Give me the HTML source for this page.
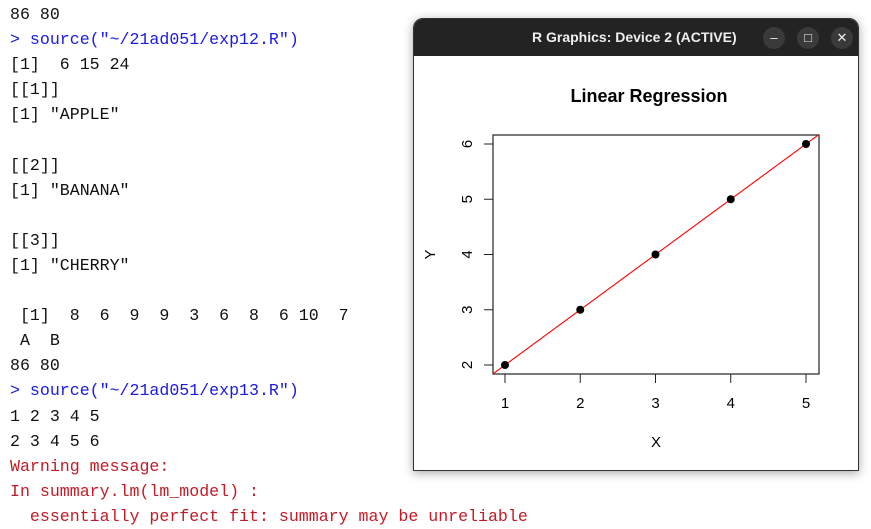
<!DOCTYPE html>
<html><head><meta charset="utf-8"><style>
body{margin:0;width:871px;height:526px;background:#fff;overflow:hidden;position:relative;font-family:"Liberation Sans",sans-serif}
#console{position:absolute;left:10px;top:2px;font-family:"Liberation Mono",monospace;font-size:16.6px;line-height:25.1px;white-space:pre;color:#111}
.b{color:#1a1ae6}.r{color:#c01c28}
#win{position:absolute;left:413px;top:18px;width:446px;height:453px;border-radius:10px 10px 0 0;box-shadow:0 2px 10px rgba(0,0,0,.35);background:#fff;overflow:hidden;border:1px solid #333;box-sizing:border-box}
#bar{height:37px;background:#232323;color:#eee;font-weight:bold;font-size:14px;line-height:37px;position:relative}
.btn{position:absolute;top:8px;width:22px;height:22px;border-radius:11px;background:#3a3a3a;color:#eee;text-align:center;line-height:22px;font-size:13px;font-weight:normal}
</style></head><body>
<div id="console">86 80
<span class="b">&gt; source("~/21ad051/exp12.R")</span>
[1]  6 15 24
[[1]]
[1] "APPLE"

[[2]]
[1] "BANANA"

[[3]]
[1] "CHERRY"

 [1]  8  6  9  9  3  6  8  6 10  7
 A  B
86 80
<span class="b">&gt; source("~/21ad051/exp13.R")</span>
1 2 3 4 5
2 3 4 5 6
<span class="r">Warning message:
In summary.lm(lm_model) :
  essentially perfect fit: summary may be unreliable</span></div>
<div id="win">
<div id="bar"><span style="position:absolute;left:118px">R Graphics: Device 2 (ACTIVE)</span>
<div class="btn" style="left:349px">–</div>
<div class="btn" style="left:383px">□</div>
<div class="btn" style="left:417px">✕</div></div>
<svg id="chart" width="446" height="416" style="position:absolute;left:-1px;top:36px"></svg>
</div>
<script>
const xs=[1,2,3,4,5];
const ys=[2,3,4,5,6];
const xTicks=[1,2,3,4,5];
const yTicks=[2,3,4,5,6];
const slope=1, intercept=1;
const ox=-413,oy=-54;
const L=493+ox,R=819+ox,T=134+oy,B=373+oy;
const sx=v=>505+ox+(v-1)*75.25;
const sy=v=>364+oy-(v-2)*55.25;
const svg=document.getElementById('chart');
const NS='http://www.w3.org/2000/svg';
function mk(t,a,txt){const e=document.createElementNS(NS,t);for(const k in a)e.setAttribute(k,a[k]);if(txt!==undefined)e.textContent=txt;svg.appendChild(e);return e;}
let e;
e=mk('text',{x:(L+R)/2-7,y:47,'text-anchor':'middle','font-size':'18','font-weight':'bold','font-family':'Liberation Sans'},'Linear Regression');


e=mk('rect',{x:L,y:T,width:R-L,height:B-T,fill:'none',stroke:'#222','stroke-width':1.2});


xTicks.forEach(v=>{
 e=mk('line',{x1:sx(v),x2:sx(v),y1:B,y2:B+9,stroke:'#222'});
 
 
 e=mk('text',{x:sx(v),y:B+34,'text-anchor':'middle','font-size':'15','font-family':'Liberation Sans'},v);
 
 
});
yTicks.forEach(v=>{
 e=mk('line',{x1:L-9,x2:L,y1:sy(v),y2:sy(v),stroke:'#222'});
 
 
 e=mk('text',{x:L-26,y:sy(v),'text-anchor':'middle','font-size':'15','font-family':'Liberation Sans',transform:`rotate(-90 ${L-26} ${sy(v)})`,dy:'5'},v);
 
 
});
e=mk('text',{x:(L+R)/2,y:B+73,'text-anchor':'middle','font-size':'15','font-family':'Liberation Sans'},'X');


e=mk('text',{x:0,y:0,'text-anchor':'middle','font-size':'15','font-family':'Liberation Sans',transform:`translate(${L-63},${(T+B)/2}) rotate(-90)`,dy:'5'},'Y');


const cp=mk('clipPath',{id:'clip'});svg.removeChild(cp);
const cr=document.createElementNS(NS,'rect');cr.setAttribute('x',L);cr.setAttribute('y',T);cr.setAttribute('width',R-L);cr.setAttribute('height',B-T);cp.appendChild(cr);svg.appendChild(cp);
const x0=0,x1=6;
e=mk('line',{x1:sx(x0),y1:sy(intercept+slope*x0),x2:sx(x1),y2:sy(intercept+slope*x1),stroke:'#ff0000','stroke-width':1.1,'clip-path':'url(#clip)'});


xs.forEach((v,i)=>{
 e=mk('circle',{cx:sx(v),cy:sy(ys[i]),r:4,fill:'#000'});
 
 
});
</script>
</body></html>
